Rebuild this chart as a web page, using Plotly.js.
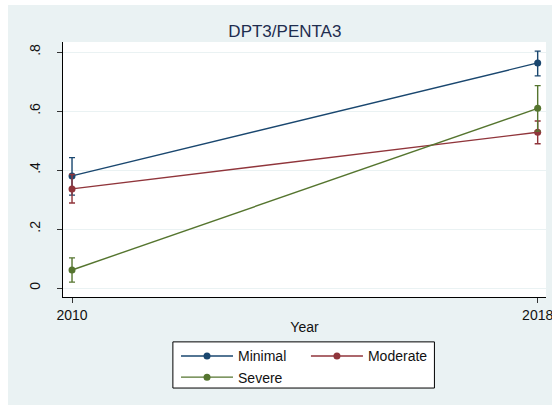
<!DOCTYPE html>
<html>
<head>
<meta charset="utf-8">
<script src="https://cdn.plot.ly/plotly-3.0.1.min.js"></script>
<style>
html, body { margin: 0; padding: 0; background: #ffffff; overflow: hidden; }
#chart { position: absolute; left: 8px; top: 5px; width: 544px; height: 400px; }
</style>
</head>
<body>
<div id="chart"></div>
<script>
// ---- data ----
var years = [2010, 2018];
var yTickVals = [0, 0.2, 0.4, 0.6, 0.8];
var yTickText = ['0', '.2', '.4', '.6', '.8'];
var xTickVals = [2010, 2018];
var xTickText = ['2010', '2018'];

var minimal    = [0.380, 0.763];
var minimalLo  = [0.315, 0.719];
var minimalHi  = [0.442, 0.803];

var moderate   = [0.336, 0.528];
var moderateLo = [0.288, 0.489];
var moderateHi = [0.385, 0.566];

var severe     = [0.061, 0.609];
var severeLo   = [0.020, 0.532];
var severeHi   = [0.102, 0.686];

var names  = ['Minimal', 'Moderate', 'Severe'];
var colors = ['#1a476f', '#90353b', '#55752f'];

function diff(a, b) { return a.map(function (v, i) { return v - b[i]; }); }

function makeTrace(name, vals, lo, hi, color, legendId) {
  return {
    type: 'scatter', mode: 'lines+markers', name: name,
    x: years, y: vals,
    line: { color: color, width: 1.4 },
    marker: { color: color, size: 7 },
    error_y: { type: 'data', symmetric: false,
      array: diff(hi, vals), arrayminus: diff(vals, lo),
      color: color, thickness: 1.4, width: 3 },
    legend: legendId
  };
}

var traces = [
  makeTrace(names[0], minimal, minimalLo, minimalHi, colors[0], 'legend'),
  makeTrace(names[1], moderate, moderateLo, moderateHi, colors[1], 'legend2'),
  makeTrace(names[2], severe, severeLo, severeHi, colors[2], 'legend')
];

var fontFam = '"Liberation Sans", Arial, sans-serif';
var legendStyle = {
  orientation: 'v', xanchor: 'left', yanchor: 'top',
  bgcolor: 'rgba(0,0,0,0)', borderwidth: 0,
  font: { family: fontFam, size: 14, color: '#111' },
  itemwidth: 52, tracegroupgap: 0
};

var layout = {
  width: 544, height: 400,
  margin: { l: 55, r: 5.5, t: 37, b: 108 },
  paper_bgcolor: '#eaf2f3',
  plot_bgcolor: '#ffffff',
  font: { family: fontFam, size: 14, color: '#111' },
  title: { text: 'DPT3/PENTA3', font: { family: fontFam, size: 17, color: '#1e2d4f' },
           x: 0.509, xref: 'container', xanchor: 'center', y: 0.935, yref: 'container', yanchor: 'middle' },
  showlegend: true,
  xaxis: {
    range: [2009.845, 2018.143],
    tickmode: 'array', tickvals: xTickVals, ticktext: xTickText,
    ticks: 'outside', ticklen: 5, tickcolor: '#333', tickwidth: 1,
    ticklabeloverflow: 'allow',
    showgrid: false, zeroline: false,
    showline: true, linecolor: '#000', linewidth: 1,
    automargin: 'height',
    tickfont: { family: fontFam, size: 14, color: '#111' },
    title: { text: 'Year', standoff: 0, font: { family: fontFam, size: 14, color: '#111' } }
  },
  yaxis: {
    range: [-0.0305, 0.834],
    tickmode: 'array', tickvals: yTickVals, ticktext: yTickText,
    tickangle: -90,
    ticks: 'outside', ticklen: 5, tickcolor: '#333', tickwidth: 1,
    ticklabelstandoff: 11,
    showgrid: true, gridcolor: '#eaf2f3', gridwidth: 1,
    zeroline: false,
    showline: true, linecolor: '#000', linewidth: 1,
    tickfont: { family: fontFam, size: 14, color: '#111' }
  },
  legend: Object.assign({ x: 0.234, y: -0.17 }, legendStyle),
  legend2: Object.assign({ x: 0.503, y: -0.17 }, legendStyle),
  shapes: [{
    type: 'rect', xref: 'paper', yref: 'paper', layer: 'above',
    x0: 0.2275, x1: 0.769, y0: -0.357, y1: -0.176,
    fillcolor: '#ffffff', line: { color: '#000', width: 1 }
  }]
};

Plotly.newPlot('chart', traces, layout, { displayModeBar: false, staticPlot: true });
</script>
</body>
</html>
